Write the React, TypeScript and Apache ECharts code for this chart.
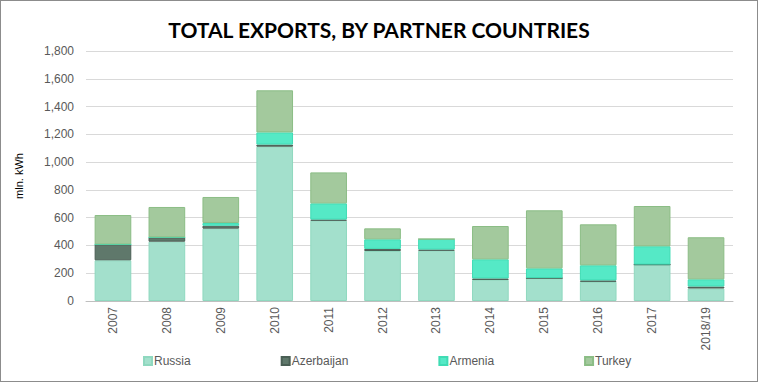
import React, { useEffect, useRef } from "react";
import * as echarts from "echarts";

const categories = ["2007", "2008", "2009", "2010", "2011", "2012", "2013", "2014", "2015", "2016", "2017", "2018/19"];
const russia = [293, 427, 521, 1111, 578, 360, 362, 152, 165, 138, 262, 90];
const azerbaijan = [115, 31, 21, 15, 8, 15, 8, 10, 0, 10, 0, 14];
const armenia = [0, 0, 20, 88, 117, 69, 76, 138, 70, 109, 132, 52];
const turkey = [211, 219, 187, 303, 223, 79, 0, 240, 418, 295, 290, 303];
const yTicks = [0, 200, 400, 600, 800, 1000, 1200, 1400, 1600, 1800];

const seriesDefs = [
  { name: "Russia", data: russia, color: "#a3e0cc", border: "#8fd8bf" },
  { name: "Azerbaijan", data: azerbaijan, color: "#5f786b", border: "#4a5f55" },
  { name: "Armenia", data: armenia, color: "#55e9c6", border: "#3fdcb4" },
  { name: "Turkey", data: turkey, color: "#a3c99d", border: "#8bbd85" },
];

const labelFont = "Arial, 'Liberation Sans', sans-serif";

export default function App() {
  const ref = useRef<HTMLDivElement>(null);
  useEffect(() => {
    if (!ref.current) return;
    const chart = echarts.init(ref.current, null, { renderer: "svg" });
    chart.setOption({
      animation: false,
      backgroundColor: "#ffffff",
      title: {
        text: "TOTAL EXPORTS, BY PARTNER COUNTRIES",
        left: "center",
        top: 13,
        textStyle: { fontFamily: "Lato", fontWeight: "bold", fontSize: 21, color: "#000000" },
      },
      legend: {
        bottom: 9,
        left: 137,
        itemWidth: 8,
        itemHeight: 8,
        itemGap: 90,
        icon: "rect",
        textStyle: { fontFamily: labelFont, fontSize: 12, color: "#595959", padding: [0, 0, 0, -3] },
        data: seriesDefs.map((s) => s.name),
      },
      grid: { left: 85, right: 24, top: 50, bottom: 80 },
      xAxis: {
        type: "category",
        data: categories,
        axisLine: { lineStyle: { color: "#bfbfbf" } },
        axisTick: { show: false },
        axisLabel: {
          rotate: 90,
          interval: 0,
          margin: 6,
          fontFamily: labelFont,
          fontSize: 12,
          color: "#595959",
        },
      },
      yAxis: {
        type: "value",
        min: yTicks[0],
        max: yTicks[yTicks.length - 1],
        interval: 200,
        name: "mln. kWh",
        nameLocation: "middle",
        nameGap: 62,
        nameRotate: 90,
        nameTextStyle: { fontFamily: labelFont, fontSize: 11, color: "#000000" },
        axisLine: { show: false },
        axisTick: { show: false },
        splitLine: { lineStyle: { color: "#d9d9d9" } },
        axisLabel: {
          margin: 12,
          fontFamily: labelFont,
          fontSize: 12,
          color: "#595959",
          formatter: (v: number) => v.toLocaleString("en-US"),
        },
      },
      series: seriesDefs.map((s) => ({
        name: s.name,
        type: "bar",
        stack: "total",
        barWidth: "68%",
        data: s.data,
        itemStyle: { color: s.color, borderColor: s.border, borderWidth: 1 },
      })),
    });
    return () => chart.dispose();
  }, []);
  return (
    <div
      ref={ref}
      style={{
        position: "fixed",
        left: 0,
        top: 0,
        width: 758,
        height: 382,
        border: "1px solid #8c8c8c",
        boxSizing: "border-box",
      }}
    />
  );
}
